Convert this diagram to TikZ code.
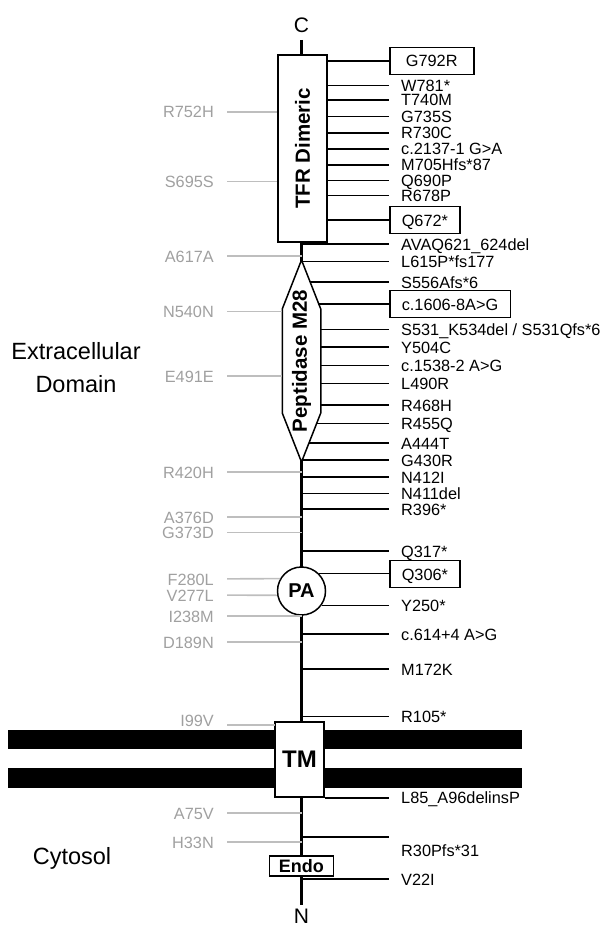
\documentclass[tikz,border=0pt]{standalone}
\usepackage{fontspec}
\setmainfont{Liberation Sans}
\usepackage{graphicx}
\usetikzlibrary{positioning}
\definecolor{wildtext}{RGB}{160,160,160}
\definecolor{wildline}{RGB}{190,190,190}

\begin{document}
\begin{tikzpicture}[
    x=1pt, y=-1pt,
    mut/.style={anchor=west, inner xsep=12pt, inner ysep=7.5pt, text height=12pt, text depth=0pt, font=\fontsize{16.3}{18}\selectfont},
    mutbox/.style={mut, draw, line width=1.5pt},
    wild/.style={anchor=east, inner xsep=13pt, inner ysep=0pt, text height=12pt, text depth=0pt, text=wildtext, font=\fontsize{16.3}{18}\selectfont},
    stem/.style={line width=1.6pt},
    wildstem/.style={line width=1.6pt, draw=wildline},
    domainbox/.style={draw, line width=1.5pt, fill=white, inner sep=0pt, font=\bfseries\fontsize{20.5}{22}\selectfont},
    domaintext/.style={inner sep=0pt, font=\bfseries\fontsize{20.5}{22}\selectfont},
    term/.style={inner sep=0pt, text height=15pt, text depth=0pt, font=\fontsize{21}{22}\selectfont},
    region/.style={align=center, font=\fontsize{23.5}{33}\selectfont}
]
\useasboundingbox (0,0) rectangle (607,928);

% backbone and membrane
\coordinate (cterm) at (301.5,40);
\coordinate (nterm) at (301.5,905);
\draw[line width=3.5pt] (cterm) -- (nterm);
\fill (8,730) rectangle (522,749.3);
\fill (8,768.3) rectangle (522,788.3);
\node[term, above=7.5pt of cterm] (cl) {C};
\node[term, below=3.5pt of nterm] (nl) {N};

% domains
\node[domainbox, minimum width=49pt, minimum height=187pt] (tfr) at (302.5,148.5) {\rotatebox{90}{TFR Dimeric}};
\coordinate (hexn) at (301.5,260);
\coordinate (hexne) at (320.75,309);
\coordinate (hexse) at (320.75,413);
\coordinate (hexs) at (301.5,462);
\coordinate (hexsw) at (282.25,413);
\coordinate (hexnw) at (282.25,309);
\draw[line width=1.5pt, fill=white] (hexn) -- (hexne) -- (hexse) -- (hexs) -- (hexsw) -- (hexnw) -- cycle;
\node[domaintext] (pep) at (301.5,361) {\rotatebox{90}{Peptidase M28}};
\node[domainbox, circle, minimum size=48pt, font=\bfseries\fontsize{20}{22}\selectfont] (pa) at (301.5,591) {PA};
\node[domainbox, minimum width=49pt, minimum height=75pt, font=\bfseries\fontsize{24}{26}\selectfont] (tm) at (299.5,759.5) {TM};
\node[domainbox, minimum width=64pt, minimum height=20pt, font=\bfseries\fontsize{18}{20}\selectfont] (endo) at (301.3,866) {Endo};

% regions
\node[region] (extra) at (76,367.5) {Extracellular\\Domain};
\node[region] (cyto) at (72,858) {Cytosol};

% pathogenic variants (right)
\node[mutbox, minimum width=84pt] (g792r) at (389,61) {G792R};
\draw[stem] (tfr.east |- g792r) -- (g792r);
\node[mut] (w781) at (389,85.5) {W781*};
\draw[stem] (tfr.east |- w781) -- (w781);
\node[mut] (t740m) at (389,100) {T740M};
\draw[stem] (tfr.east |- t740m) -- (t740m);
\node[mut] (g735s) at (389,116.5) {G735S};
\draw[stem] (tfr.east |- g735s) -- (g735s);
\node[mut] (r730c) at (389,133) {R730C};
\draw[stem] (tfr.east |- r730c) -- (r730c);
\node[mut] (c2137) at (389,149) {c.2137-1 G>A};
\draw[stem] (tfr.east |- c2137) -- (c2137);
\node[mut] (m705) at (389,165) {M705Hfs*87};
\draw[stem] (tfr.east |- m705) -- (m705);
\node[mut] (q690p) at (389,180.5) {Q690P};
\draw[stem] (tfr.east |- q690p) -- (q690p);
\node[mut] (r678p) at (389,195.5) {R678P};
\draw[stem] (tfr.east |- r678p) -- (r678p);
\node[mutbox] (q672) at (389,220) {Q672*};
\draw[stem] (tfr.east |- q672) -- (q672);
\node[mut] (avaq) at (389,244) {AVAQ621\_624del};
\draw[stem] (cterm |- avaq) -- (avaq);
\node[mut] (l615p) at (389,261.5) {L615P*fs177};
\draw[stem] (cterm |- l615p) -- (l615p);
\node[mut] (s556a) at (389,282) {S556Afs*6};
\draw[stem] (310.1,0 |- s556a) -- (s556a);
\node[mutbox] (c1606) at (389,304) {c.1606-8A>G};
\draw[stem] (318.4,0 |- c1606) -- (c1606);
\node[mut] (s531) at (389,329.5) {S531\_K534del / S531Qfs*6};
\draw[stem] (hexne |- s531) -- (s531);
\node[mut] (y504c) at (389,347) {Y504C};
\draw[stem] (hexne |- y504c) -- (y504c);
\node[mut] (c1538) at (389,365.5) {c.1538-2 A>G};
\draw[stem] (hexne |- c1538) -- (c1538);
\node[mut] (l490r) at (389,383.5) {L490R};
\draw[stem] (hexne |- l490r) -- (l490r);
\node[mut] (r468h) at (389,405) {R468H};
\draw[stem] (hexne |- r468h) -- (r468h);
\node[mut] (r455q) at (389,423.5) {R455Q};
\draw[stem] (316.4,0 |- r455q) -- (r455q);
\node[mut] (a444t) at (389,443) {A444T};
\draw[stem] (309,0 |- a444t) -- (a444t);
\node[mut] (g430r) at (389,460) {G430R};
\draw[stem] (cterm |- g430r) -- (g430r);
\node[mut] (n412i) at (389,477) {N412I};
\draw[stem] (cterm |- n412i) -- (n412i);
\node[mut] (n411) at (389,493.5) {N411del};
\draw[stem] (cterm |- n411) -- (n411);
\node[mut] (r396) at (389,509) {R396*};
\draw[stem] (cterm |- r396) -- (r396);
\node[mut] (q317) at (389,551) {Q317*};
\draw[stem] (cterm |- q317) -- (q317);
\node[mutbox] (q306) at (389,574) {Q306*};
\draw[stem] (pa.45) -- (pa.45 -| q306.west);
\node[mut] (y250) at (389,605.5) {Y250*};
\draw[stem] (pa.-36) -- (pa.-36 -| y250.west);
\node[mut] (c614) at (389,634) {c.614+4 A>G};
\draw[stem] (cterm |- c614) -- (c614);
\node[mut] (m172k) at (389,669) {M172K};
\draw[stem] (cterm |- m172k) -- (m172k);
\node[mut] (r105) at (389,716.5) {R105*};
\draw[stem] (cterm |- r105) -- (r105);
\node[mut] (l85) at (389,797) {L85\_A96delinsP};
\draw[stem] (tm.south east) -- (tm.south east -| l85.west);
\node[mut] (r30) at (389,850) {R30Pfs*31};
\coordinate (r30tip) at (389,837);
\draw[stem] (cterm |- r30tip) -- (r30tip);
\node[mut] (v22i) at (389,879) {V22I};
\draw[stem] (cterm |- v22i) -- (v22i);

% benign variants (left)
\node[wild] (r752h) at (227,112) {R752H};
\draw[wildstem] (r752h) -- (tfr.west |- r752h);
\node[wild] (s695s) at (227,181.5) {S695S};
\draw[wildstem] (s695s) -- (tfr.west |- s695s);
\node[wild] (a617a) at (227,256) {A617A};
\draw[wildstem] (a617a) -- (cterm |- a617a);
\node[wild] (n540n) at (227,311.5) {N540N};
\draw[wildstem] (n540n) -- (hexnw |- n540n);
\node[wild] (e491e) at (227,376) {E491E};
\draw[wildstem] (e491e) -- (hexnw |- e491e);
\node[wild] (r420h) at (227,472) {R420H};
\draw[wildstem] (r420h) -- (cterm |- r420h);
\node[wild] (a376d) at (227,517) {A376D};
\draw[wildstem] (a376d) -- (cterm |- a376d);
\node[wild] (g373d) at (227,532.5) {G373D};
\draw[wildstem] (g373d) -- (cterm |- g373d);
\node[wild] (f280l) at (227,579) {F280L};
\draw[wildstem] (f280l) -- (pa.150);
\node[wild] (v277l) at (227,595) {V277L};
\draw[wildstem] (v277l) -- (pa.190);
\node[wild] (i238m) at (227,616) {I238M};
\draw[wildstem] (i238m) -- (cterm |- i238m);
\node[wild] (d189n) at (227,642) {D189N};
\draw[wildstem] (d189n) -- (cterm |- d189n);
\node[wild] (i99v) at (227,720.5) {I99V};
\draw[wildstem] ([yshift=-4.5pt]i99v.east) -- ++(48,0);
\node[wild] (a75v) at (227,813) {A75V};
\draw[wildstem] (a75v) -- (cterm |- a75v);
\node[wild] (h33n) at (227,842) {H33N};
\draw[wildstem] (h33n) -- (cterm |- h33n);
\end{tikzpicture}
\end{document}
